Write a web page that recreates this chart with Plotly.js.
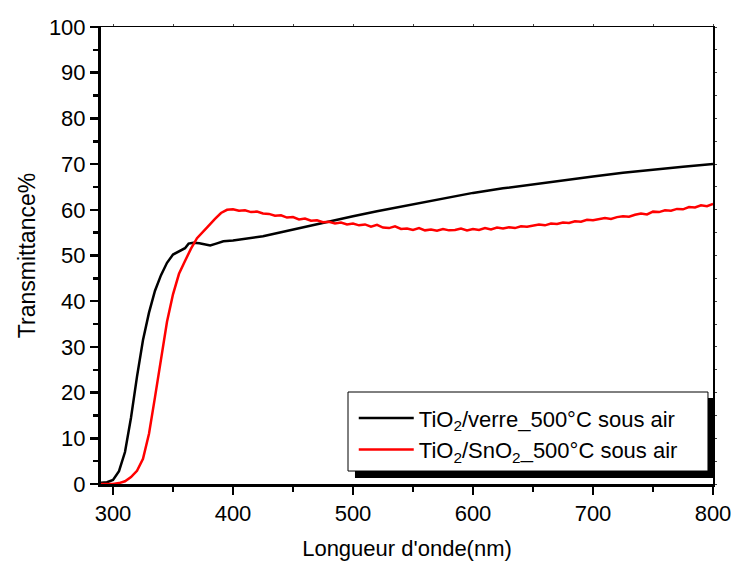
<!DOCTYPE html>
<html>
<head>
<meta charset="utf-8">
<script src="https://cdn.plot.ly/plotly-3.0.1.min.js"></script>
<style>html,body{margin:0;padding:0;background:#fff;}#chart{width:737px;height:563px;}</style>
</head>
<body>
<div id="chart"></div>
<script>
// Wavelength (nm) and transmittance (%) for TiO2/verre
const wlBlack = [290,295,300,305,310,315,320,325,330,335,340,345,350,355,360,363,367,372,377,381,386,392,400,412,425,440,460,480,500,520,550,575,600,625,650,675,700,725,750,775,800];
const tBlack  = [0.3,0.4,0.9,2.8,7.0,14.5,23.5,31.5,37.5,42.3,45.7,48.4,50.2,50.9,51.6,52.6,52.8,52.7,52.4,52.2,52.6,53.1,53.3,53.7,54.2,55.1,56.3,57.4,58.6,59.7,61.2,62.5,63.7,64.7,65.6,66.5,67.3,68.1,68.8,69.4,70.0];

// Wavelength (nm) and transmittance (%) for TiO2/SnO2
const wlRed = [290,295,300,305,310,315,320,325,330,335,340,345,350,355,360,365,370,375,380,385,390,395,
  400,405,410,415,420,425,430,435,440,445,450,455,460,465,470,475,480,485,490,495,
  500,505,510,515,520,525,530,535,540,545,550,555,560,565,570,575,580,585,590,595,
  600,605,610,615,620,625,630,635,640,645,650,655,660,665,670,675,680,685,690,695,
  700,705,710,715,720,725,730,735,740,745,750,755,760,765,770,775,780,785,790,795,800];
const tRed = [0.0,0.0,0.0,0.2,0.6,1.5,2.9,5.5,11.0,19.0,26.8,35.5,41.5,46.0,48.8,51.5,53.8,55.3,56.6,58.0,59.3,60.0,
  60.1,59.8,59.9,59.5,59.6,59.2,59.1,58.7,58.8,58.3,58.4,57.9,58.1,57.6,57.7,57.3,57.4,57.0,57.2,56.8,
  57.0,56.6,56.8,56.3,56.7,56.1,56.0,56.4,55.8,55.9,55.6,56.0,55.5,55.7,55.4,55.8,55.5,55.6,55.9,55.5,
  55.8,55.6,56.0,55.7,56.1,55.9,56.2,56.0,56.4,56.3,56.5,56.8,56.6,57.0,56.9,57.2,57.1,57.5,57.4,57.8,
  57.7,57.9,58.2,58.0,58.4,58.6,58.5,58.9,59.2,59.0,59.6,59.5,59.9,59.8,60.2,60.1,60.6,60.5,61.0,60.8,61.3];

const seriesNames = ['TiO<sub>2</sub>/verre_500°C sous air', 'TiO<sub>2</sub>/SnO<sub>2</sub>_500°C sous air'];
const xTitle = "Longueur d'onde(nm)";
const yTitle = 'Transmittance%';

const FONT = 'Arial, "Liberation Sans", sans-serif';

const traces = [
  {x: wlBlack, y: tBlack, type: 'scatter', mode: 'lines', name: seriesNames[0],
   line: {color: '#000000', width: 2.5}},
  {x: wlRed, y: tRed, type: 'scatter', mode: 'lines', name: seriesNames[1],
   line: {color: '#ff0000', width: 2.5}},
  {x: [], y: [], xaxis: 'x2', yaxis: 'y2', showlegend: false, hoverinfo: 'skip'}
];

const layout = {
  width: 737, height: 563,
  margin: {l: 101, r: 24, t: 27, b: 79},
  paper_bgcolor: '#ffffff', plot_bgcolor: '#ffffff',
  font: {family: FONT, color: '#000'},
  showlegend: true,
  legend: {x: 0.413, y: 0.19, xanchor: 'left', yanchor: 'top',
    bgcolor: 'rgba(0,0,0,0)', borderwidth: 0, itemwidth: 55, tracegroupgap: 0,
    font: {family: FONT, size: 22, color: '#000'}},
  xaxis: {range: [290, 800], tick0: 300, dtick: 100, ticks: 'outside', ticklen: 8, tickwidth: 2.5,
    tickcolor: '#000', showline: true, linewidth: 3, linecolor: '#000', mirror: false,
    showgrid: false, zeroline: false,
    tickfont: {family: FONT, size: 22, color: '#000'},
    minor: {dtick: 50, tick0: 300, ticks: 'outside', ticklen: 5, tickwidth: 2.5, tickcolor: '#000', showgrid: false},
    title: {text: xTitle, font: {family: FONT, size: 22, color: '#000'}, standoff: 16}},
  yaxis: {range: [0, 100], dtick: 10, ticks: 'outside', ticklen: 8, tickwidth: 2.5,
    tickcolor: '#000', showline: true, linewidth: 3, linecolor: '#000', mirror: false,
    showgrid: false, zeroline: false,
    tickfont: {family: FONT, size: 22, color: '#000'},
    minor: {dtick: 5, ticks: 'outside', ticklen: 5, tickwidth: 2.5, tickcolor: '#000', showgrid: false},
    title: {text: yTitle, font: {family: FONT, size: 23, color: '#000'}, standoff: 7}},
  xaxis2: {range: [290, 800], overlaying: 'x', side: 'top', anchor: 'y', tick0: 300, dtick: 50,
    ticks: 'outside', ticklen: 2, tickwidth: 1, showticklabels: false, showline: true, linewidth: 1.5,
    linecolor: '#000', showgrid: false, zeroline: false},
  yaxis2: {range: [0, 100], overlaying: 'y', side: 'right', anchor: 'x', dtick: 5,
    ticks: 'outside', ticklen: 2, tickwidth: 1, showticklabels: false, showline: true, linewidth: 1.5,
    linecolor: '#000', showgrid: false, zeroline: false},
  shapes: [
    {type: 'rect', xref: 'paper', yref: 'paper', x0: 0.415, x1: 1.0, y0: 0.013, y1: 0.188,
     fillcolor: '#000', line: {width: 0}, layer: 'above'},
    {type: 'rect', xref: 'paper', yref: 'paper', x0: 0.4036, x1: 0.9918, y0: 0.0284, y1: 0.2013,
     fillcolor: '#fff', line: {color: '#000', width: 1}, layer: 'above'}
  ]
};

Plotly.newPlot('chart', traces, layout, {displayModeBar: false, staticPlot: true});
</script>
</body>
</html>
